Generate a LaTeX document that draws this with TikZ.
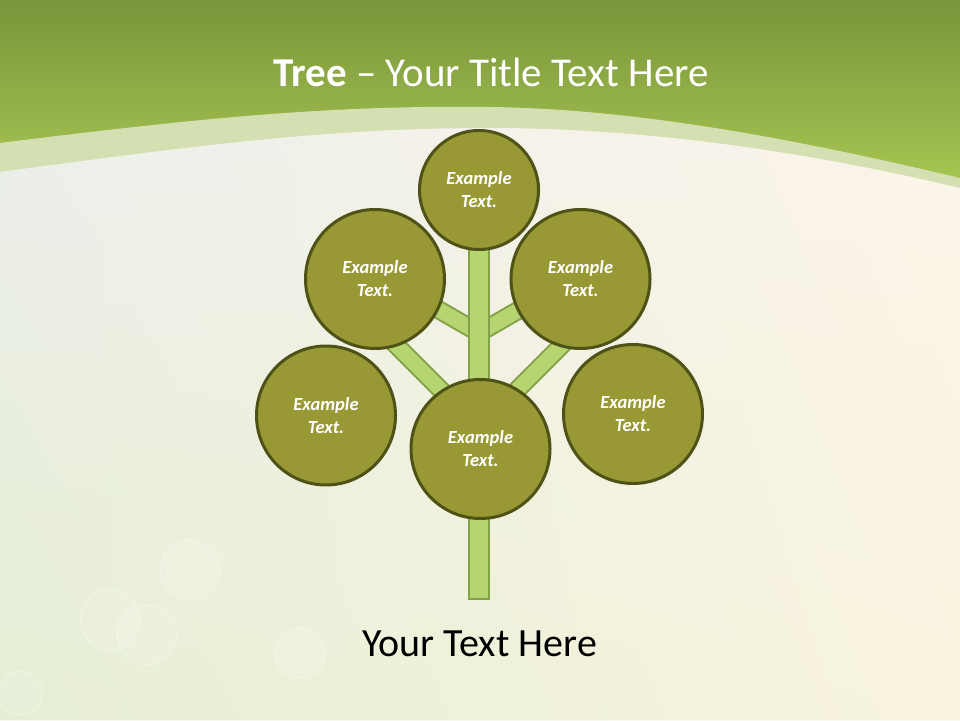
\documentclass[tikz,border=0pt]{standalone}
\usepackage{fontspec}
\setmainfont{Carlito}
\usetikzlibrary{shadings}
\definecolor{gtop}{RGB}{122,149,59}
\definecolor{gbot}{RGB}{170,202,84}
\definecolor{gband}{RGB}{212,224,178}
\definecolor{bgul}{RGB}{236,239,235}
\definecolor{bgur}{RGB}{252,244,234}
\definecolor{bgll}{RGB}{230,239,212}
\definecolor{bglr}{RGB}{248,243,222}
\definecolor{leaffill}{RGB}{152,153,52}
\definecolor{leafline}{RGB}{78,82,22}
\definecolor{branchfill}{RGB}{182,212,112}
\definecolor{branchline}{RGB}{130,162,72}
\tikzset{
  leaf/.style={circle, draw=leafline, line width=3pt, fill=leaffill, text=white,
    minimum size=139pt, inner sep=0pt, align=center,
    font=\fontsize{18.5}{23}\selectfont\bfseries\itshape},
  branch/.style={draw=branchline, line width=2pt, double=branchfill, double distance=15pt},
  trunkbox/.style={rectangle, draw=branchline, line width=2pt, fill=branchfill,
    minimum width=20pt, minimum height=379pt, inner sep=0pt},
  bokeh/.style={fill=white, fill opacity=0.12, draw=white, draw opacity=0.25, line width=1.5pt}
}
\begin{document}
\begin{tikzpicture}[x=1pt,y=1pt]
\useasboundingbox (0,0) rectangle (960,720);
% header green
\shade[top color=gtop, bottom color=gbot] (0,520) rectangle (960,720);
% pale band
\fill[gband] (0,0) -- (0,577) .. controls (200,602) and (330,615) .. (490,613)
  .. controls (640,611) and (800,580) .. (960,542) -- (960,0) -- cycle;
% body
\shade[upper left=bgul, upper right=bgur, lower left=bgll, lower right=bglr]
  (0,0) -- (0,548) .. controls (200,575) and (330,592) .. (490,592)
  .. controls (640,592) and (800,570) .. (960,532) -- (960,0) -- cycle;
% bokeh
\path[bokeh] (147,85) circle (30);
\path[bokeh] (110,100) circle (30);
\path[bokeh] (190,150) circle (30);
\path[bokeh] (20,27) circle (22);
\path[bokeh] (300,67) circle (25);
% branch coordinates
\coordinate (jlow) at (479,292);
\coordinate (jup) at (479,387);
\coordinate (ell) at (369,402);
\coordinate (elr) at (589,402);
\coordinate (eul) at (375,447);
\coordinate (eur) at (583,447);
\draw[branch] (jlow) -- (ell);
\draw[branch] (jlow) -- (elr);
\draw[branch] (jup) -- (eul);
\draw[branch] (jup) -- (eur);
% trunk
\node[trunkbox] (trunk) at (479,310.5) {};
% leaves
\node[leaf, minimum size=119pt] (top) at (479,530) {Example\\Text.};
\node[leaf] (ul) at (375,441) {Example\\Text.};
\node[leaf] (ur) at (580.5,441) {Example\\Text.};
\node[leaf] (ll) at (326,304.5) {Example\\Text.};
\node[leaf] (bc) at (480.5,271) {Example\\Text.};
\node[leaf] (lr) at (633,306) {Example\\Text.};
% texts
\node[anchor=base, text=white, font=\fontsize{41}{48}\selectfont, inner sep=0pt] (title) at (491,633) {\textbf{Tree} – Your Title Text Here};
\node[anchor=base, text=black, font=\fontsize{40}{48}\selectfont, inner sep=0pt] (caption) at (479.5,64) {Your Text Here};
\end{tikzpicture}
\end{document}
